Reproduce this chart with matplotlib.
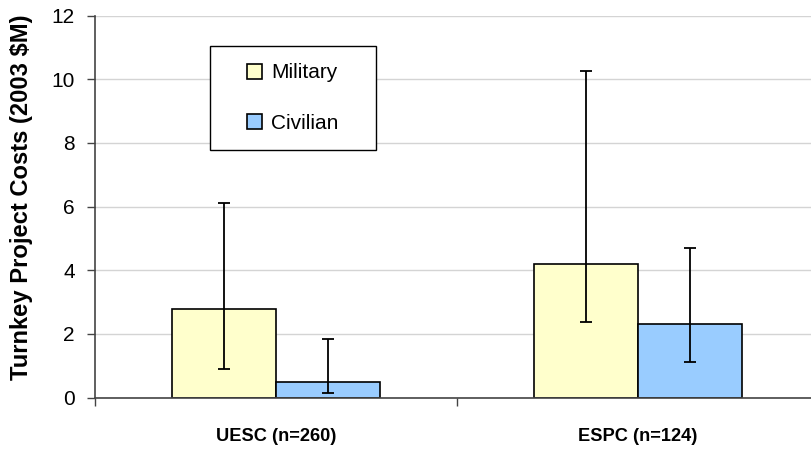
import numpy as np
import matplotlib.pyplot as plt
from matplotlib.patches import Rectangle
from matplotlib.ticker import FixedLocator, NullFormatter

plt.rcParams['font.family'] = ['Liberation Sans', 'DejaVu Sans']

categories = ['UESC (n=260)', 'ESPC (n=124)']
military = [2.77, 4.18]
military_low = [0.91, 2.36]
military_high = [6.1, 10.25]
civilian = [0.5, 2.32]
civilian_low = [0.13, 1.1]
civilian_high = [1.85, 4.69]

W, H = 811, 453
fig = plt.figure(figsize=(W / 100, H / 100), dpi=100)
ax = fig.add_axes([95 / W, 1 - 397.5 / H, 724 / W, 382 / H])

x = np.arange(len(categories)) + 0.5
w = 0.287

mil_err = [np.array(military) - np.array(military_low), np.array(military_high) - np.array(military)]
civ_err = [np.array(civilian) - np.array(civilian_low), np.array(civilian_high) - np.array(civilian)]

ax.bar(x - w / 2, military, w, color='#FFFFCC', edgecolor='black', linewidth=1.2, label='Military', zorder=2)
ax.bar(x + w / 2, civilian, w, color='#99CCFF', edgecolor='black', linewidth=1.2, label='Civilian', zorder=2)
ax.errorbar(x - w / 2, military, yerr=mil_err, fmt='none', ecolor='black', elinewidth=1.3,
            capsize=4.5, capthick=1.3, zorder=3)
ax.errorbar(x + w / 2, civilian, yerr=civ_err, fmt='none', ecolor='black', elinewidth=1.3,
            capsize=4.5, capthick=1.3, zorder=3)

ax.set_xlim(0, 2)
ax.set_ylim(0, 12)
ax.set_yticks(np.arange(0, 13, 2))
ax.tick_params(axis='y', labelsize=15, length=6, width=1, color='#444444', pad=8.5)
ax.yaxis.grid(True, color='#d4d4d4', linewidth=1)
ax.set_axisbelow(True)

ax.xaxis.set_major_locator(FixedLocator([0, 1, 2]))
ax.xaxis.set_major_formatter(NullFormatter())
ax.xaxis.set_minor_locator(FixedLocator(x))
xlabels = ax.set_xticklabels(categories, minor=True, fontsize=13.5, fontweight='bold')
ax.tick_params(axis='x', which='major', length=6, width=1, color='#444444')
ax.tick_params(axis='x', which='minor', length=0, pad=22)

for s in ['top', 'right']:
    ax.spines[s].set_visible(False)
for s in ['left', 'bottom']:
    ax.spines[s].set_color('#444444')
    ax.spines[s].set_linewidth(1.2)

ylab = ax.set_ylabel('Turnkey Project Costs (2003 $M)', fontsize=15, fontweight='bold')
ax.yaxis.set_label_coords(-(95 - 33) / 724, (397.5 - 197) / 382)

# fit label lengths to the reference (y label ~367 px long, x labels ~120 px wide)
fig.canvas.draw()
r = fig.canvas.get_renderer()
h = ylab.get_window_extent(r).height
ylab.set_fontsize(15 * 367 / h)
wx = xlabels[0].get_window_extent(r).width
for t in xlabels:
    t.set_fontsize(13.5 * 120 / wx)

# legend box drawn separately so the inner padding can match
ax.add_patch(Rectangle(((210 - 95) / 724, (397.5 - 150) / 382), 166 / 724, 104 / 382,
                       transform=ax.transAxes, facecolor='white', edgecolor='black',
                       linewidth=1, zorder=4))
leg = ax.legend(loc='center', bbox_to_anchor=((293 - 95) / 724, (397.5 - 98) / 382),
                fontsize=15, frameon=False, borderpad=0, labelspacing=1.5,
                handlelength=0.72, handleheight=0.72, handletextpad=0.45)
leg.set_zorder(5)

fig.savefig('out.png', dpi=100)
